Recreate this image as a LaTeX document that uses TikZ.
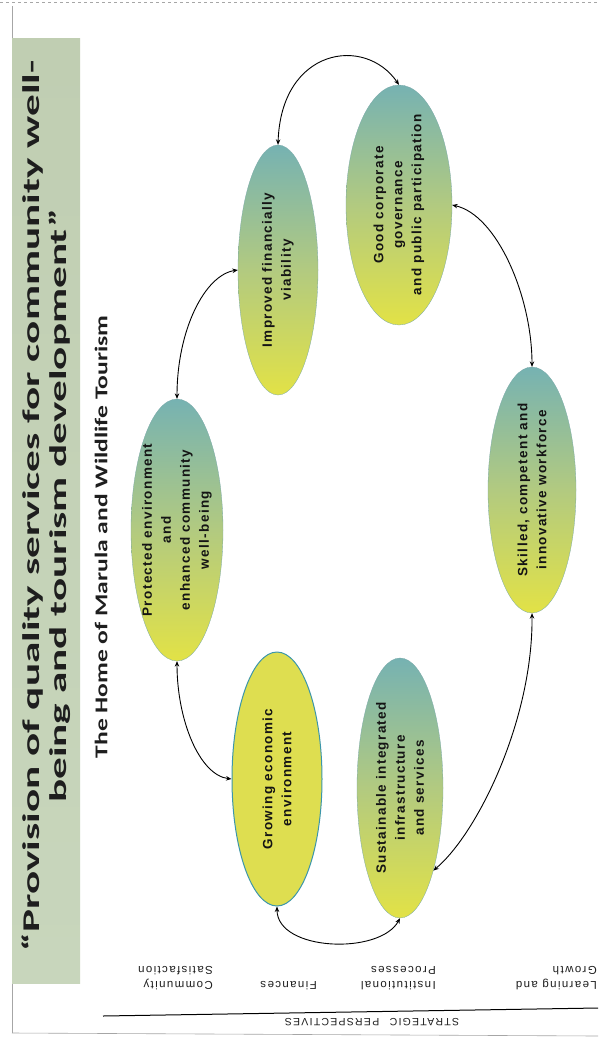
\documentclass[tikz,border=0pt]{standalone}
\usepackage{fontspec}
\usetikzlibrary{arrows.meta,shapes.geometric}
\newfontfamily\titlefont{Carlito}[FakeStretch=1.8]
\newfontfamily\subfont{Carlito}[FakeStretch=1.42]
\newfontfamily\ellfont{Liberation Sans}[LetterSpace=10]
\newfontfamily\perspfont{Liberation Sans}[LetterSpace=12]
\definecolor{ellTop}{RGB}{118,178,178}
\definecolor{ellMid}{RGB}{178,202,128}
\definecolor{ellBot}{RGB}{226,226,70}
\definecolor{growFill}{RGB}{222,222,80}
\definecolor{growLine}{RGB}{60,150,170}
\definecolor{band}{RGB}{192,206,178}
\definecolor{bandLight}{RGB}{200,214,188}
\definecolor{txt}{RGB}{30,30,30}
\definecolor{etx}{RGB}{20,20,20}
\begin{document}
\begin{tikzpicture}[x=1pt,y=-1pt,
  ell/.style={ellipse, draw=ellTop!80!gray, line width=0.3pt, top color=ellTop, bottom color=ellBot, middle color=ellMid, inner sep=0pt},
  growell/.style={ellipse, draw=growLine, line width=1pt, fill=growFill, inner sep=0pt},
  etxt/.style={rotate=90, align=center, text=etx, inner sep=0pt, font=\ellfont\bfseries\fontsize{13.5}{19}\selectfont},
  conn/.style={<->, >={Stealth[length=5.5pt,width=4.5pt]}, line width=0.9pt, black},
  persp/.style={rotate=180, align=left, anchor=north west, inner sep=0pt, text=txt, font=\perspfont\fontsize{11.5}{15}\selectfont},
  frame/.style={gray!70, line width=0.6pt}]
\useasboundingbox (0,0) rectangle (598,1042);
\clip (0,0) rectangle (598,1042);
\fill[white] (0,0) rectangle (598,1042);
% page frame
\draw[frame, dashed] (0,2) -- (598,2);
\draw[frame] (12,6) -- (12,1033);
\draw[frame] (12,1033) -- (598,1036);
% title band
\shade[top color=band, bottom color=bandLight] (12,38) rectangle (80,983);
\node[rotate=90, align=center, inner sep=0pt, text=txt, font=\titlefont\bfseries\fontsize{24}{27}\selectfont] (title) at (46,506)
  {“Provision of quality services for community well-\\being and tourism development”};
\node[rotate=90, inner sep=0pt, text=txt, font=\subfont\bfseries\fontsize{18}{20}\selectfont] (sub) at (101,537)
  {The Home of Marula and Wildlife Tourism};
% ellipses
\node[ell, minimum width=92pt, minimum height=262pt] (prot) at (177,530) {};
\node[growell, minimum width=90pt, minimum height=254pt] (grow) at (277,779) {};
\node[ell, minimum width=80pt, minimum height=250pt] (imp) at (278,270) {};
\node[ell, minimum width=106pt, minimum height=240pt] (good) at (399,205) {};
\node[ell, minimum width=88pt, minimum height=246pt] (skill) at (532,490) {};
\node[ell, minimum width=86pt, minimum height=260pt] (sus) at (400,788) {};
% ellipse texts
\node[etxt] (protT) at (prot.center) {Protected environment\\and\\enhanced community\\well-being};
\node[etxt] (growT) at (grow.center) {Growing economic\\environment};
\node[etxt] (impT) at (imp.center) {Improved financially\\viability};
\node[etxt] (goodT) at (good.center) {Good corporate\\governance\\and public participation};
\node[etxt] (skillT) at (skill.center) {Skilled, competent and\\innovative workforce};
\node[etxt] (susT) at (sus.center) {Sustainable integrated\\infrastructure\\and services};
% connectors
\draw[conn] (prot.south) .. controls +(0,59) and +(-32,-4) .. (grow.west);
\draw[conn] (prot.north) .. controls +(0,-69) and +(-33,5) .. (imp.west);
\draw[conn] (imp.north) .. controls (281,48) and (365,35) .. (good.north);
\draw[conn] (good.east) .. controls +(45,10) and +(0,-70) .. (skill.north);
\draw[conn] (skill.south) .. controls +(1,107) and +(44,-37) .. (sus.-68);
\draw[conn] (sus.south) .. controls +(-20,37) and +(0,45) .. (grow.south);
% perspectives
\node[persp] (p1) at (213,990) {Community\\Satisfaction};
\node[persp] (p2) at (317,990) {Finances};
\node[persp] (p3) at (436,990) {Institutional\\Processes};
\node[persp] (p4) at (597,990) {Learning and\\Growth};
\draw[black, line width=1pt] (103,1016) -- (598,1008);
\node[rotate=180, inner sep=0pt, text=txt, font=\perspfont\fontsize{10.5}{12}\selectfont] (sp) at (372,1022) {STRATEGIC\quad PERSPECTIVES};
\end{tikzpicture}
\end{document}
